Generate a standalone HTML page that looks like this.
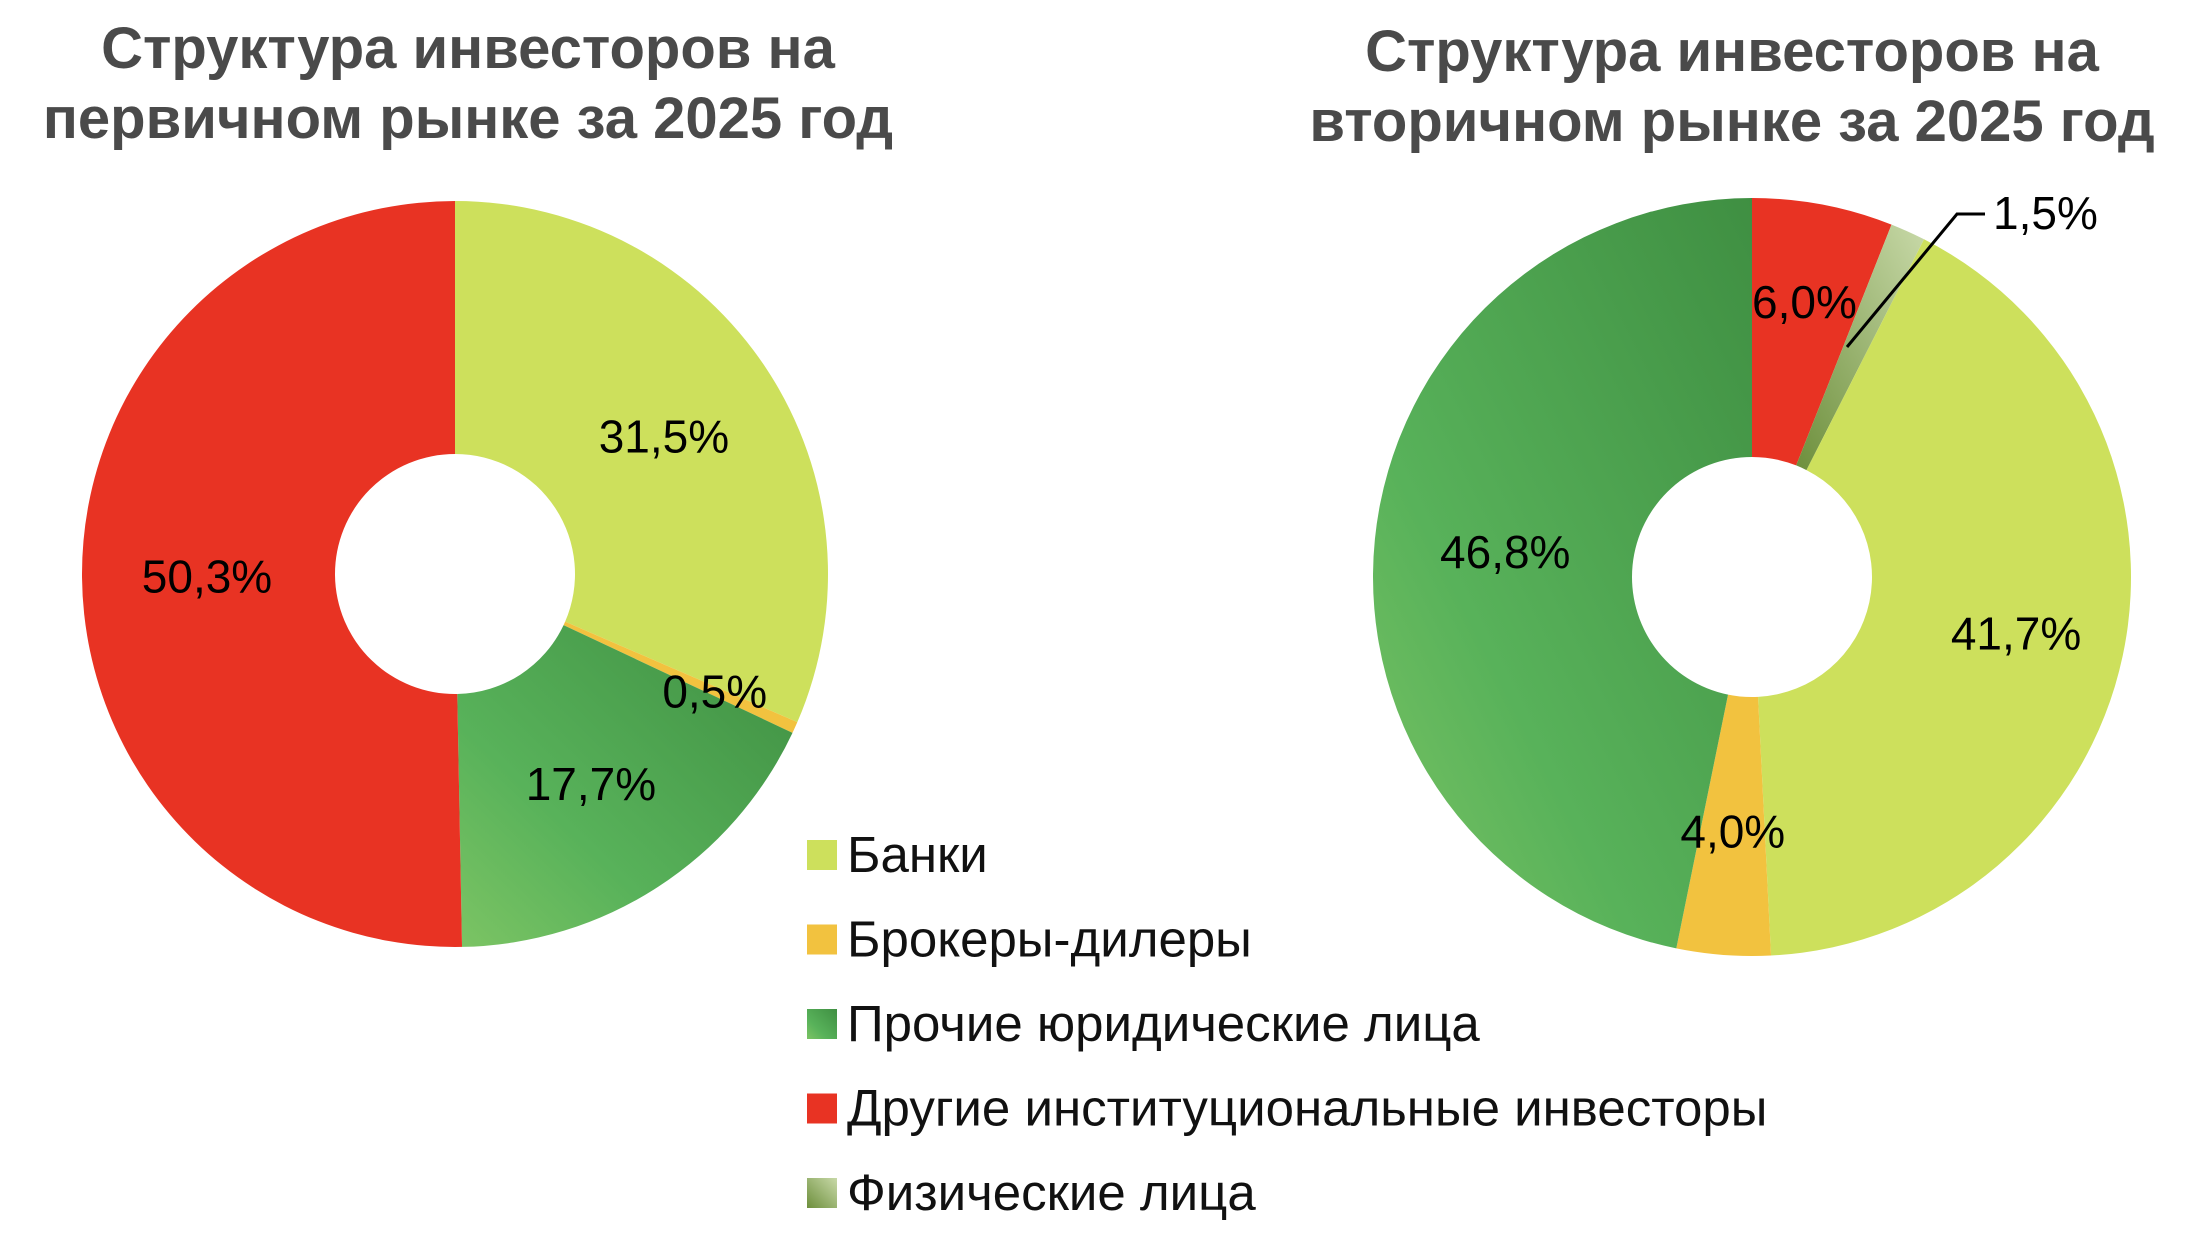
<!DOCTYPE html>
<html><head><meta charset="utf-8">
<style>
html,body{margin:0;padding:0;background:#fff;}
svg{display:block;font-family:"Liberation Sans","DejaVu Sans",sans-serif;}
</style></head>
<body>
<svg id="chart" width="2197" height="1246" viewBox="0 0 2197 1246">
<defs>
<linearGradient id="gGreen" x1="0" y1="1" x2="1" y2="0">
<stop offset="0" stop-color="#7cc464"/><stop offset="0.35" stop-color="#58b25a"/><stop offset="1" stop-color="#3f8f42"/>
</linearGradient>
<linearGradient id="gPhys" x1="0" y1="1" x2="1" y2="0">
<stop offset="0" stop-color="#6d8f3c"/><stop offset="1" stop-color="#c8d9a8"/>
</linearGradient>
</defs>
<g font-weight="bold" font-size="58" fill="#4a4a4a" text-anchor="middle">
<text x="468" y="68">Структура инвесторов на</text>
<text x="468" y="138">первичном рынке за 2025 год</text>
</g>
<g font-weight="bold" font-size="58" fill="#4a4a4a" text-anchor="middle">
<text x="1732" y="71">Структура инвесторов на</text>
<text x="1732" y="141">вторичном рынке за 2025 год</text>
</g>
<g id="leftPie"></g>
<g id="rightPie"></g>
<polyline points="1985,214 1957,214 1847,347" fill="none" stroke="#000" stroke-width="3"/>
<g id="legend"></g>
</svg>
<script>
const categories = ["Банки","Брокеры-дилеры","Прочие юридические лица","Другие институциональные инвесторы","Физические лица"];
const colors = ["#cde05c","#f2c23f","url(#gGreen)","#e83323","url(#gPhys)"];
const legendColors = ["#cde05c","#f2c23f","url(#gGreen)","#e83323","url(#gPhys)"];
const primaryOrder = [0,1,2,3];
const primaryValues = [31.5,0.5,17.7,50.3];
const primaryLabels = ["31,5%","0,5%","17,7%","50,3%"];
const secondaryOrder = [3,4,0,1,2];
const secondaryValues = [6.0,1.5,41.7,4.0,46.8];
const secondaryLabels = ["6,0%","","41,7%","4,0%","46,8%"];

const NS="http://www.w3.org/2000/svg";
function arc(cx,cy,r,r0,a0,a1){
  const p=(a,rr)=>[cx+rr*Math.sin(a),cy-rr*Math.cos(a)];
  const la=(a1-a0)>Math.PI?1:0;
  const [x0,y0]=p(a0,r),[x1,y1]=p(a1,r),[x2,y2]=p(a1,r0),[x3,y3]=p(a0,r0);
  return `M${x0},${y0}A${r},${r} 0 ${la} 1 ${x1},${y1}L${x2},${y2}A${r0},${r0} 0 ${la} 0 ${x3},${y3}Z`;
}
function donut(gid,cx,cy,r,r0,order,values,labels,labelPos){
  const g=document.getElementById(gid);
  const total=values.reduce((a,b)=>a+b,0);
  let a=0;
  const texts=[];
  values.forEach((v,i)=>{
    const a1=a+v/total*2*Math.PI;
    const path=document.createElementNS(NS,"path");
    path.setAttribute("d",arc(cx,cy,r,r0,a,a1));
    path.setAttribute("fill",colors[order[i]]);
    
    
    g.appendChild(path);
    if(labels[i]){
      const mid=(a+a1)/2, rr=labelPos[i];
      const t=document.createElementNS(NS,"text");
      t.setAttribute("x",cx+rr*Math.sin(mid));
      t.setAttribute("y",cy-rr*Math.cos(mid)+16);
      t.setAttribute("text-anchor","middle");
      t.setAttribute("font-size","46");
      t.textContent=labels[i];
      
      
      texts.push(t);
    }
    a=a1;
  });
  texts.forEach(t=>g.appendChild(t));
}
donut("leftPie",455,574,373,120,primaryOrder,primaryValues,primaryLabels,[250,285,250,248]);
donut("rightPie",1752,577,379,120,secondaryOrder,secondaryValues,secondaryLabels,[280,0,270,255,248]);
const t15=document.createElementNS(NS,"text");
t15.setAttribute("x","1993");t15.setAttribute("y","229");t15.setAttribute("font-size","46");
t15.textContent="1,5%";


document.getElementById("chart").appendChild(t15);
const lg=document.getElementById("legend");
categories.forEach((c,i)=>{
  const y=855+i*84.5;
  const r=document.createElementNS(NS,"rect");
  r.setAttribute("x",807);r.setAttribute("y",y-15);r.setAttribute("width",30);r.setAttribute("height",30);
  r.setAttribute("fill",legendColors[i]);
  
  
  lg.appendChild(r);
  const t=document.createElementNS(NS,"text");
  t.setAttribute("x",847);t.setAttribute("y",y+17);t.setAttribute("font-size","51");t.setAttribute("fill","#111");
  t.textContent=c;
  
  
  lg.appendChild(t);
});
</script>
</body></html>
